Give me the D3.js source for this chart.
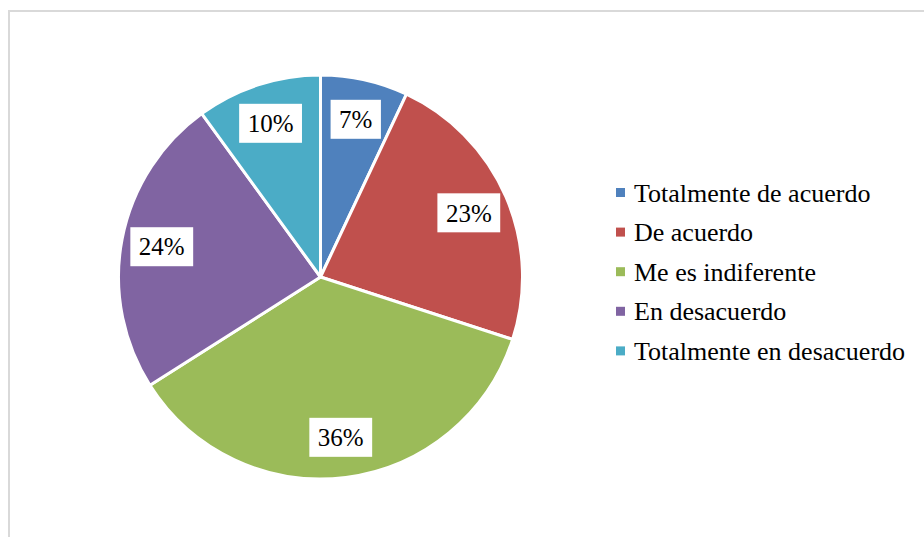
<!DOCTYPE html>
<html>
<head>
<meta charset="utf-8">
<script src="https://cdn.jsdelivr.net/npm/d3@7"></script>
<style>
  body { margin: 0; background: #fff; }
  svg text { font-family: "Liberation Serif", "Times New Roman", serif; }
</style>
</head>
<body>
<div class="canva"></div>
<script>
const categories = ["Totalmente de acuerdo", "De acuerdo", "Me es indiferente", "En desacuerdo", "Totalmente en desacuerdo"];
const values = [7, 23, 36, 24, 10];
const colors = ["#4F81BD", "#C0504D", "#9BBB59", "#8064A2", "#4BACC6"];

const width = 924;
const height = 537;

const svg = d3.select(".canva").append("svg")
    .attr("width", width)
    .attr("height", height);

// chart frame (runs off the right and bottom edges)
svg.append("rect")
    .attr("x", 9)
    .attr("y", 11)
    .attr("width", 940)
    .attr("height", 560)
    .attr("fill", "white")
    .attr("stroke", "#d9d9d9")
    .attr("stroke-width", 2);

const cx = 320.5, cy = 277, radius = 202;

const graph = svg.append("g")
    .attr("transform", `translate(${cx}, ${cy})`);

const data = categories.map((c, i) => ({ name: c, value: values[i], color: colors[i] }));

const pie = d3.pie()
    .sort(null)
    .value(d => d.value);

const arc = d3.arc()
    .innerRadius(0)
    .outerRadius(radius);

const labelArc = d3.arc()
    .innerRadius(radius * 0.8)
    .outerRadius(radius * 0.8);

const arcs = pie(data);

graph.selectAll("path")
    .data(arcs)
    .enter()
    .append("path")
    .attr("d", arc)
    .attr("fill", d => d.data.color)
    .attr("stroke", "white")
    .attr("stroke-width", 3)
    .attr("stroke-linejoin", "round");

// data labels with white boxes
const labels = graph.selectAll(".label")
    .data(arcs)
    .enter()
    .append("g")
    .attr("class", "label")
    .attr("transform", d => `translate(${labelArc.centroid(d)})`);

labels.append("text")
    .attr("text-anchor", "middle")
    .attr("dy", "0.35em")
    .attr("fill", "black")
    .style("font-size", "25px")
    .text(d => d.data.value + "%");

labels.each(function() {
    const g = d3.select(this);
    const bb = g.select("text").node().getBBox();
    g.insert("rect", "text")
        .attr("x", bb.x - 8.5)
        .attr("y", -19.5)
        .attr("width", bb.width + 17)
        .attr("height", 39)
        .attr("fill", "white");
});

// legend
const legendGroup = svg.append("g")
    .attr("transform", "translate(616, 192.5)");

data.forEach((d, i) => {
    const row = legendGroup.append("g")
        .attr("transform", `translate(0, ${i * 39.6})`);

    row.append("rect")
        .attr("y", -4.5)
        .attr("width", 9)
        .attr("height", 9)
        .attr("fill", d.color);

    row.append("text")
        .attr("x", 18)
        .attr("dy", "0.35em")
        .attr("fill", "black")
        .style("font-size", "26px")
        .text(d.name);
});
</script>
</body>
</html>
